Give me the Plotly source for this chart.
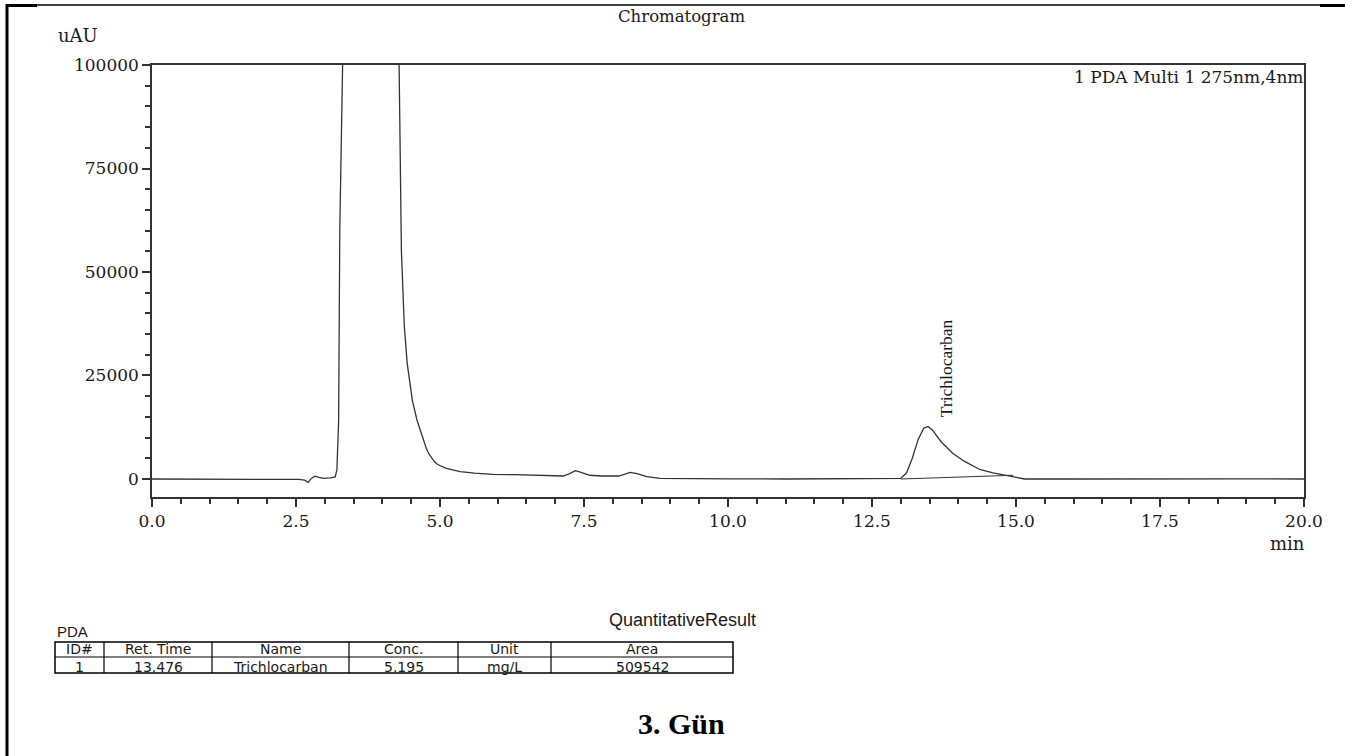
import plotly.graph_objects as go

# ---------------- data ----------------
time_min = [0.0, 1.0, 2.0, 2.55, 2.65, 2.71, 2.77, 2.83, 2.9, 2.97, 3.1, 3.18, 3.21, 3.24, 3.26, 3.28,
            3.4, 3.8, 4.2, 4.27, 4.29, 4.33, 4.38, 4.43, 4.52, 4.60, 4.66, 4.71, 4.76, 4.81, 4.86,
            4.91, 4.96, 5.02, 5.1, 5.2, 5.35, 5.6, 5.92, 6.3, 6.68, 7.0, 7.14, 7.25, 7.35, 7.45,
            7.6, 7.8, 8.1, 8.2, 8.3, 8.42, 8.59, 8.82, 9.2, 10.0, 11.0, 12.0, 12.9, 13.0, 13.1,
            13.2, 13.3, 13.4, 13.476, 13.55, 13.7, 13.9, 14.1, 14.37, 14.6, 14.8, 15.0, 15.15, 16.0,
            17.0, 18.0, 19.0, 20.0]
signal_uAU = [0, 0, -50, -100, -300, -800, 200, 700, 400, 150, 250, 500, 2200, 14000, 60000, 200000,
              450000, 500000, 300000, 150000, 100000, 55000, 37000, 28000, 19000, 14250, 11500, 9400,
              7500, 6000, 4900, 4100, 3500, 3050, 2650, 2250, 1800, 1400, 1130, 1050, 970, 800, 720,
              1300, 2000, 1600, 900, 720, 720, 1100, 1600, 1300, 560, 170, 100, 50, 0, 0, 0, 150,
              1500, 5000, 9500, 12300, 12700, 11800, 9000, 6200, 4300, 2300, 1500, 900, 300, 0, 0,
              50, 0, 50, 0]

baseline_time = [13.0, 14.95]
baseline_uAU = [0, 900]

peak_name = "Trichlocarban"
peak_time = 13.476

x_ticks = [0.0, 2.5, 5.0, 7.5, 10.0, 12.5, 15.0, 17.5, 20.0]
y_ticks = [0, 25000, 50000, 75000, 100000]

table_headers = ["ID#", "Ret. Time", "Name", "Conc.", "Unit", "Area"]
table_row = ["1", "13.476", "Trichlocarban", "5.195", "mg/L", "509542"]

# ---------------- layout geometry (pixels) ----------------
W, H = 1345, 756
L, R, T, B = 152, 1304, 65, 497


def px(x):
    return (x - L) / (R - L)


def py(y):
    return (B - y) / (B - T)


serif_wide = "DejaVu Serif"
serif = "Liberation Serif, Times New Roman, serif"
sans = "Liberation Sans, Arial, sans-serif"
sans_wide = "DejaVu Sans"
ink = "#1a1a1a"

fig = go.Figure()
fig.add_trace(go.Scatter(x=time_min, y=signal_uAU, mode="lines",
                         line=dict(color="#333333", width=1.3), hoverinfo="skip", showlegend=False))
fig.add_trace(go.Scatter(x=baseline_time, y=baseline_uAU, mode="lines",
                         line=dict(color="#333333", width=1.1), hoverinfo="skip", showlegend=False))

axis_common = dict(showgrid=False, zeroline=False, showline=True, linecolor="#333333", linewidth=1.5,
                   mirror=True, ticks="outside", tickcolor="#333333", tickwidth=1.5, ticklen=8,
                   tickfont=dict(family=serif_wide, size=17, color=ink))

fig.update_layout(
    width=W, height=H,
    margin=dict(l=L, r=W - R, t=T, b=H - B),
    paper_bgcolor="white", plot_bgcolor="white",
    showlegend=False,
    xaxis=dict(range=[0, 20], tickvals=x_ticks, ticktext=[f"{v:.1f}" for v in x_ticks],
               minor=dict(dtick=0.5, ticks="outside", ticklen=5, tickcolor="#333333", tickwidth=1.5),
               **axis_common),
    yaxis=dict(range=[-4350, 100000], tickvals=y_ticks, ticktext=[str(v) for v in y_ticks],
               minor=dict(dtick=5000, ticks="outside", ticklen=5, tickcolor="#333333", tickwidth=1.5),
               **axis_common),
)


def text_at(text, x, y, family, size, xanchor="center", color=ink, **kw):
    return dict(text=text, x=x, y=y, xref="paper", yref="paper", xanchor=xanchor, yanchor="middle",
                showarrow=False, borderpad=0, font=dict(family=family, size=size, color=color), **kw)


ann = []
ann.append(text_at("Chromatogram", px(681), py(17), serif_wide, 16.5))
ann.append(text_at("uAU", px(78), py(35), serif_wide, 18))
ann.append(text_at("min", px(1287), py(543), serif_wide, 18))
ann.append(text_at("1 PDA Multi 1 275nm,4nm", 1.0, py(77), serif_wide, 17, xanchor="right"))
ann.append(dict(text=peak_name, x=peak_time, y=14500, xref="x", yref="y", xshift=18,
                yanchor="bottom", xanchor="center", textangle=-90, showarrow=False,
                font=dict(family=serif, size=17.5, color=ink)))
ann.append(text_at("QuantitativeResult", px(682), py(620), sans, 18))
ann.append(text_at("PDA", px(56), py(631), sans, 15, xanchor="left"))
ann.append(text_at("<b>3. Gün</b>", px(681), py(724), serif, 30, color="black"))

# table
col_edges = [55, 104, 212, 349, 458, 551, 733]
row_edges = [642, 657, 673]
shapes = []
shapes.append(dict(type="rect", xref="paper", yref="paper", x0=px(col_edges[0]), x1=px(col_edges[-1]),
                   y0=py(row_edges[0]), y1=py(row_edges[-1]), line=dict(color="black", width=1.5)))
shapes.append(dict(type="line", xref="paper", yref="paper", x0=px(col_edges[0]), x1=px(col_edges[-1]),
                   y0=py(row_edges[1]), y1=py(row_edges[1]), line=dict(color="black", width=1.2)))
for cx in col_edges[1:-1]:
    shapes.append(dict(type="line", xref="paper", yref="paper", x0=px(cx), x1=px(cx),
                       y0=py(row_edges[0]), y1=py(row_edges[-1]), line=dict(color="black", width=1.2)))
for i, (h, v) in enumerate(zip(table_headers, table_row)):
    cx = (col_edges[i] + col_edges[i + 1]) / 2
    ann.append(text_at(h, px(cx), py(649), sans_wide, 14))
    ann.append(text_at(v, px(cx), py(666.5), sans_wide, 14))

# page border
shapes.append(dict(type="line", xref="paper", yref="paper", x0=px(7), x1=px(7), y0=py(4), y1=py(756),
                   line=dict(color="black", width=3)))
shapes.append(dict(type="line", xref="paper", yref="paper", x0=px(7), x1=px(1345), y0=py(5), y1=py(5),
                   line=dict(color="black", width=1.5)))
shapes.append(dict(type="line", xref="paper", yref="paper", x0=px(7), x1=px(37), y0=py(5.5), y1=py(5.5),
                   line=dict(color="black", width=3)))
shapes.append(dict(type="line", xref="paper", yref="paper", x0=px(1320), x1=px(1345), y0=py(5.5), y1=py(5.5),
                   line=dict(color="black", width=3)))

fig.update_layout(annotations=ann, shapes=shapes)
fig.write_html("out.html", config={"displayModeBar": False},
               post_script="document.body.style.margin='0';")
